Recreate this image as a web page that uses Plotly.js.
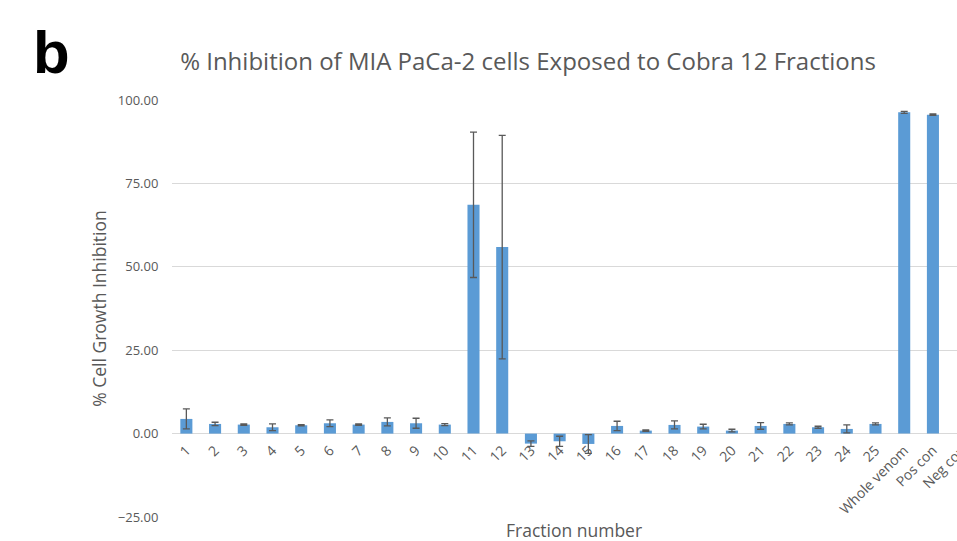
<!DOCTYPE html>
<html>
<head>
<meta charset="utf-8">
<script src="https://cdn.plot.ly/plotly-3.0.1.min.js"></script>
<style>
  html, body { margin: 0; padding: 0; background: #ffffff; overflow: hidden; }
  #chart { width: 1000px; height: 541px; }
</style>
</head>
<body>
<div id="chart"></div>
<script>
// Fractions of Cobra 12 venom plus controls
const categories = ['1', '2', '3', '4', '5', '6', '7', '8', '9', '10',
  '11', '12', '13', '14', '15', '16', '17', '18', '19', '20',
  '21', '22', '23', '24', '25', 'Whole venom', 'Pos con', 'Neg con'];

// Mean % cell growth inhibition
const inhibition = [4.4, 2.9, 2.7, 1.9, 2.5, 3.1, 2.7, 3.5, 3.1, 2.7,
  68.6, 55.9, -3.0, -2.3, -3.1, 2.3, 0.9, 2.6, 2.1, 0.9,
  2.3, 2.9, 1.9, 1.4, 2.9, 96.3, 95.6, 0.0];

// Error (± SD)
const errors = [3.0, 0.5, 0.2, 1.0, 0.2, 1.0, 0.2, 1.2, 1.5, 0.3,
  21.8, 33.5, 0.8, 1.5, 2.8, 1.4, 0.2, 1.2, 0.7, 0.4,
  1.0, 0.3, 0.3, 1.2, 0.3, 0.3, 0.2, 0.0];

const yTicks = [-25, 0, 25, 50, 75, 100];

const grey = '#595959';
const font = 'Open Sans, Noto Sans, sans-serif';

const trace = {
  type: 'bar',
  x: categories,
  y: inhibition,
  marker: { color: '#5b9bd5' },
  error_y: {
    type: 'data',
    array: errors,
    visible: true,
    color: '#595959',
    thickness: 1.3,
    width: 3.5
  },
  hoverinfo: 'x+y'
};

const layout = {
  width: 1000,
  height: 541,
  margin: { l: 172, r: 24, t: 100, b: 24 },
  paper_bgcolor: '#ffffff',
  plot_bgcolor: '#ffffff',
  showlegend: false,
  bargap: 0.58,
  font: { family: font, color: grey },
  title: {
    text: '% Inhibition of MIA PaCa-2 cells Exposed to Cobra 12 Fractions',
    font: { family: font, size: 24, color: grey },
    xref: 'container', x: 0.528, xanchor: 'center',
    yref: 'container', y: 1 - 62 / 541, yanchor: 'middle'
  },
  xaxis: {
    type: 'category',
    range: [-0.5, 27.5],
    anchor: 'free',
    position: 0.2,
    tickangle: -45,
    tickfont: { family: font, size: 14, color: grey },
    ticklabelstandoff: 5,
    showgrid: false,
    showline: false,
    ticks: '',
    automargin: false
  },
  yaxis: {
    domain: [0, 1],
    range: [-25, 100],
    tickvals: yTicks,
    tickformat: '.2f',
    tickfont: { family: font, size: 13, color: grey },
    gridcolor: '#d9d9d9',
    gridwidth: 1,
    zeroline: true,
    zerolinecolor: '#d9d9d9',
    zerolinewidth: 1,
    showline: false,
    ticks: 'outside',
    ticklen: 10,
    tickcolor: 'rgba(0,0,0,0)',
    automargin: false,
    title: {
      text: '% Cell Growth Inhibition',
      font: { family: font, size: 17.5, color: grey },
      standoff: 6
    }
  },
  annotations: [
    {
      text: 'Fraction number',
      xref: 'paper', x: 0.5, xanchor: 'center',
      yref: 'paper', y: (541 - 530 - 24) / 417, yanchor: 'middle',
      showarrow: false,
      font: { family: font, size: 17.5, color: grey }
    },
    {
      text: '<b>b</b>',
      xref: 'paper', x: (51 - 172) / 804, xanchor: 'center',
      yref: 'paper', y: (541 - 52 - 24) / 417, yanchor: 'middle',
      showarrow: false,
      font: { family: 'Liberation Sans, Arial, sans-serif', size: 60, color: '#000000' }
    }
  ]
};

Plotly.newPlot('chart', [trace], layout, { displayModeBar: false, responsive: false });
</script>
</body>
</html>
